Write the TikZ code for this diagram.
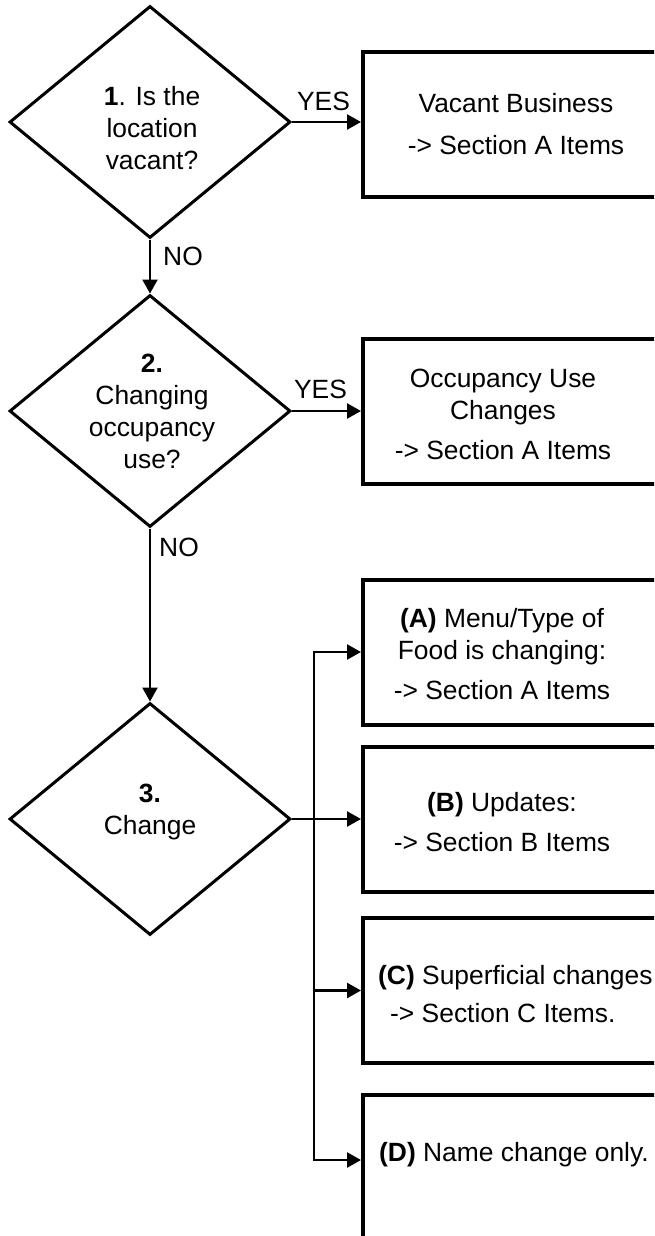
\documentclass[tikz,border=0pt]{standalone}
\usepackage{fontspec}
\setmainfont{Liberation Sans}
\usetikzlibrary{shapes.geometric}
\usetikzlibrary{arrows.meta}

\tikzset{
  decision/.style={diamond, draw, line width=3pt, minimum width=281pt, minimum height=232pt, inner sep=0pt},
  outcome/.style={rectangle, draw, line width=4pt, minimum width=330pt, minimum height=145pt, anchor=west},
  txt/.style={font=\fontsize{26.4}{32}\selectfont, align=center, inner sep=0pt},
  flow/.style={line width=2.4pt, -{Triangle[length=14pt, width=15pt]}},
}

\begin{document}
\begin{tikzpicture}[x=1pt, y=-1pt]
  \useasboundingbox (0,0) rectangle (654,1236);
  \clip (0,0) rectangle (654,1236);
  \node [decision] (q1) at (150,122) {};
  \node [decision] (q2) at (150,411) {};
  \node [decision] (q3) at (150,819) {};
  \node [txt] (q1text) at (152,128) {\textbf{1}. Is the\\location\\vacant?};
  \node [txt] (q2text) at (152,411) {\textbf{2.}\\Changing\\occupancy\\use?};
  \node [txt] (q3text) at (150,812) {\textbf{3.}\\Change};

  \node [outcome] (vacant) at (361,124.5) {};
  \node [outcome] (usechange) at (361,411.5) {};
  \node [outcome] (menu) at (361,652) {};
  \node [outcome] (updates) at (361,819) {};
  \node [outcome] (superficial) at (361,990.5) {};
  \node [outcome] (rename) at (361,1167) {};

  \node [txt] (vacanttext) at (516,124) {Vacant Business\\[10pt]-> Section A Items};
  \node [txt] (usetext) at (503,414) {Occupancy Use\\Changes\\[8pt]-> Section A Items};
  \node [txt] (menutext) at (502,654) {\textbf{(A)} Menu/Type of\\Food is changing:\\[8pt]-> Section A Items};
  \node [txt] (updatestext) at (502,822) {\textbf{(B)} Updates:\\[8pt]-> Section B Items};
  \node [txt, align=left, anchor=west] (superfictext) at (378,994) {\textbf{(C)} Superficial changes\\[6pt]\hspace*{12pt}-> Section C Items.};
  \node [txt, anchor=west] (renametext) at (379,1155) {\textbf{(D)} Name change only.};

  \draw [flow] (q1.east) -- node [txt, above=10pt, xshift=-3pt] (yes1) {YES} (q1.east -| vacant.west);
  \draw [flow] (q2.east) -- node [txt, above=11pt, xshift=-6pt] (yes2) {YES} (q2.east -| usechange.west);
  \draw [flow] (q1.south) -- node [txt, pos=0.31, anchor=west, xshift=12pt] (no1) {NO} (q2.north);
  \draw [flow] (q2.south) -- node [txt, pos=0.11, anchor=west, xshift=8pt] (no2) {NO} (q3.north);

  \coordinate (split) at (314,819);
  \draw [flow] (q3.east) -- (updates.west);
  \draw [flow] (split) |- (menu.west);
  \draw [flow] (split) |- (superficial.west);
  \draw [flow] (split) |- ([yshift=7pt]rename.west);
\end{tikzpicture}
\end{document}
